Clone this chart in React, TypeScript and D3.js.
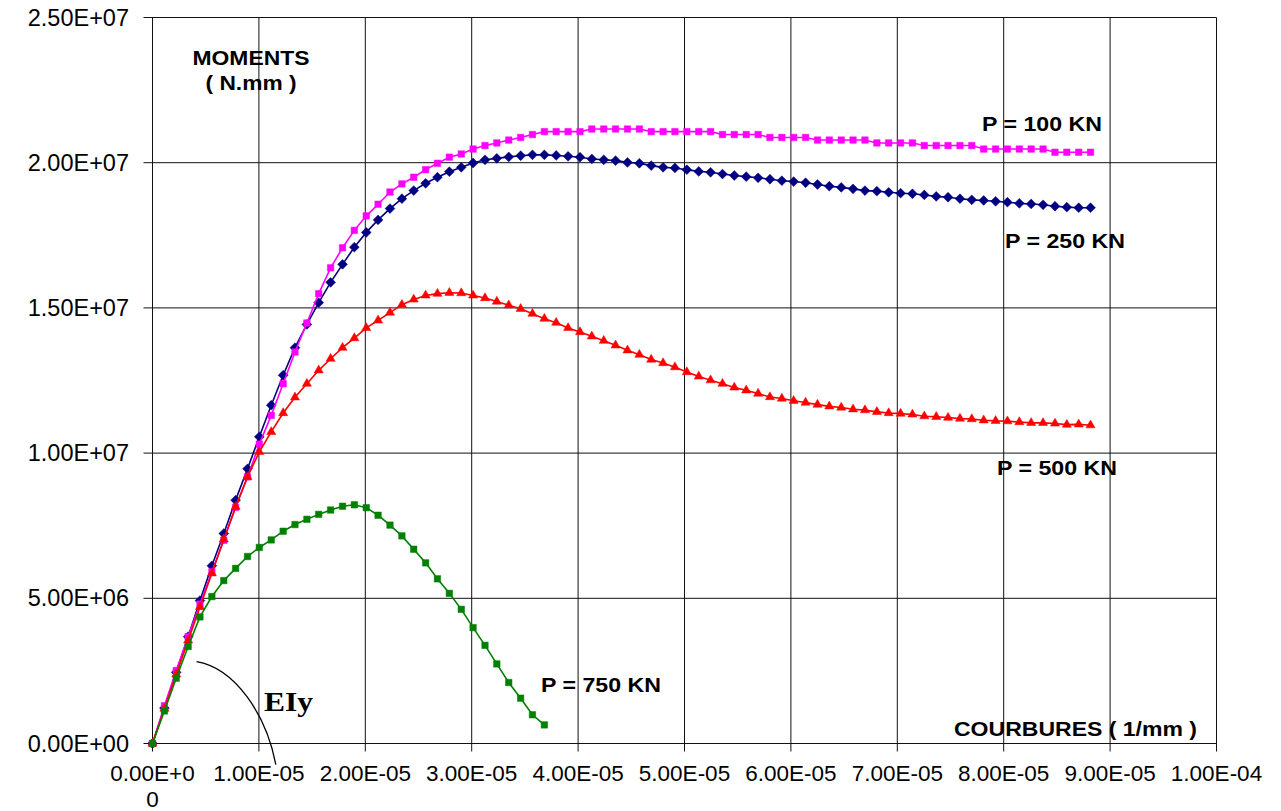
import * as d3 from "d3";

// curvature, in 1e-6 1/mm (same steps for every load case)
const curvature = [
  0, 1.12, 2.23, 3.35, 4.46, 5.58, 6.7, 7.81, 8.93, 10.04,
  11.16, 12.28, 13.39, 14.51, 15.62, 16.74, 17.86, 18.97, 20.09, 21.2,
  22.32, 23.44, 24.55, 25.67, 26.78, 27.9, 29.02, 30.13, 31.25, 32.36,
  33.48, 34.6, 35.71, 36.83, 37.94, 39.06, 40.18, 41.29, 42.41, 43.52,
  44.64, 45.76, 46.87, 47.99, 49.1, 50.22, 51.34, 52.45, 53.57, 54.68,
  55.8, 56.92, 58.03, 59.15, 60.26, 61.38, 62.5, 63.61, 64.73, 65.84,
  66.96, 68.08, 69.19, 70.31, 71.42, 72.54, 73.66, 74.77, 75.89, 77.0,
  78.12, 79.24, 80.35, 81.47, 82.58, 83.7, 84.82, 85.93, 87.05, 88.16,
];

// moments, in 1e6 N.mm
const momentP100 = [
  0, 1.3, 2.51, 3.68, 4.8, 5.91, 7.0, 8.13, 9.18, 10.31,
  11.3, 12.39, 13.48, 14.48, 15.49, 16.38, 17.07, 17.67, 18.17, 18.57,
  18.99, 19.27, 19.5, 19.76, 19.98, 20.19, 20.3, 20.47, 20.59, 20.68,
  20.78, 20.87, 20.97, 21.07, 21.07, 21.07, 21.07, 21.16, 21.16, 21.16,
  21.16, 21.16, 21.07, 21.07, 21.07, 21.07, 21.07, 21.07, 20.97, 20.97,
  20.97, 20.97, 20.87, 20.87, 20.87, 20.87, 20.78, 20.78, 20.78, 20.78,
  20.78, 20.68, 20.68, 20.68, 20.68, 20.59, 20.59, 20.59, 20.59, 20.59,
  20.47, 20.47, 20.47, 20.47, 20.47, 20.47, 20.36, 20.36, 20.36, 20.36,
];

const momentP250 = [
  0, 1.22, 2.45, 3.68, 4.92, 6.12, 7.23, 8.38, 9.46, 10.56,
  11.65, 12.68, 13.63, 14.43, 15.18, 15.88, 16.5, 17.09, 17.6, 18.03,
  18.42, 18.76, 19.04, 19.29, 19.5, 19.69, 19.84, 19.99, 20.1, 20.15,
  20.2, 20.24, 20.27, 20.27, 20.25, 20.22, 20.19, 20.13, 20.1, 20.07,
  20.01, 19.98, 19.9, 19.84, 19.82, 19.76, 19.7, 19.67, 19.61, 19.56,
  19.52, 19.48, 19.43, 19.38, 19.35, 19.31, 19.25, 19.19, 19.15, 19.1,
  19.04, 19.02, 18.98, 18.95, 18.93, 18.89, 18.84, 18.81, 18.76, 18.72,
  18.7, 18.67, 18.64, 18.6, 18.58, 18.55, 18.5, 18.47, 18.45, 18.45,
];

const momentP500 = [
  0, 1.2, 2.38, 3.55, 4.7, 5.86, 7.03, 8.15, 9.18, 10.04,
  10.73, 11.38, 11.92, 12.39, 12.85, 13.25, 13.63, 13.96, 14.31, 14.57,
  14.84, 15.11, 15.29, 15.43, 15.49, 15.52, 15.51, 15.43, 15.34, 15.22,
  15.09, 14.97, 14.8, 14.63, 14.49, 14.31, 14.17, 14.02, 13.87, 13.71,
  13.54, 13.39, 13.22, 13.1, 12.96, 12.79, 12.64, 12.51, 12.39, 12.26,
  12.16, 12.05, 11.93, 11.88, 11.8, 11.74, 11.67, 11.61, 11.57, 11.51,
  11.48, 11.42, 11.38, 11.36, 11.33, 11.27, 11.25, 11.22, 11.19, 11.17,
  11.13, 11.11, 11.1, 11.07, 11.04, 11.04, 11.02, 10.98, 10.99, 10.96,
];

const momentP750 = [
  0, 1.12, 2.25, 3.34, 4.36, 5.06, 5.61, 6.03, 6.44, 6.75,
  7.01, 7.31, 7.54, 7.72, 7.89, 8.04, 8.17, 8.22, 8.12, 7.86,
  7.52, 7.15, 6.69, 6.22, 5.67, 5.17, 4.62, 3.99, 3.38, 2.74,
  2.1, 1.56, 0.99, 0.64,
];

const yTickValues = [0, 5e6, 1e7, 1.5e7, 2e7, 2.5e7];
const yTickLabels = ["0.00E+00", "5.00E+06", "1.00E+07", "1.50E+07", "2.00E+07", "2.50E+07"];
const xTickValues = [0, 1e-5, 2e-5, 3e-5, 4e-5, 5e-5, 6e-5, 7e-5, 8e-5, 9e-5, 1e-4];
const xTickLabels = [
  "0.00E+0", "1.00E-05", "2.00E-05", "3.00E-05", "4.00E-05", "5.00E-05",
  "6.00E-05", "7.00E-05", "8.00E-05", "9.00E-05", "1.00E-04",
];

// EIy callout, in (1e-6 1/mm, 1e6 N.mm)
const calloutPoints = [
  [4.14, 2.82],
  [7.74, 2.6],
  [10.7, 1.0],
  [11.59, -0.73],
];

const series = [
  { name: "P = 250 KN", values: momentP250, color: "#000080", marker: "diamond" },
  { name: "P = 100 KN", values: momentP100, color: "#FF00FF", marker: "square" },
  { name: "P = 500 KN", values: momentP500, color: "#FF0000", marker: "triangle" },
  { name: "P = 750 KN", values: momentP750, color: "#008000", marker: "square" },
];

const W = 1281;
const H = 811;
const sans = "'Liberation Sans', Arial, sans-serif";

export default function App() {
  const x = d3.scaleLinear().domain([0, 1e-4]).range([152.5, 1216.5]);
  const y = d3.scaleLinear().domain([0, 2.5e7]).range([743.5, 17.5]);

  const line = d3
    .line<[number, number]>()
    .x((d) => x(d[0] * 1e-6))
    .y((d) => y(d[1] * 1e6));

  const markerPath = {
    square: d3.symbol(d3.symbolSquare, 42)(),
    diamond: d3.symbol(d3.symbolSquare, 48)(),
    triangle: d3.symbol(d3.symbolTriangle, 36)(),
  };

  const cp = calloutPoints.map(([cx, cy]) => [x(cx * 1e-6), y(cy * 1e6)]);
  const calloutD = `M${cp[0][0]},${cp[0][1]} C${cp[1][0]},${cp[1][1]} ${cp[2][0]},${cp[2][1]} ${cp[3][0]},${cp[3][1]}`;

  return (
    <svg
      width={W}
      height={H}
      style={{ position: "absolute", left: 0, top: 0, background: "#fff" }}
    >
      <rect width={W} height={H} fill="#fff" />

      {/* grid */}
      {yTickValues.map((v) => (
        <line key={"gy" + v} x1={x(0) - 9} x2={x(1e-4)} y1={y(v)} y2={y(v)} stroke="#111" strokeWidth={1} />
      ))}
      {xTickValues.map((v) => (
        <line key={"gx" + v} x1={x(v)} x2={x(v)} y1={y(2.5e7)} y2={y(0) + 8} stroke="#111" strokeWidth={1} />
      ))}

      {/* y tick labels */}
      {yTickValues.map((v, i) => (
        <text key={"yl" + v} x={129} y={y(v) + 8} textAnchor="end" fontFamily={sans} fontSize={23.5} fill="#000">
          {yTickLabels[i]}
        </text>
      ))}

      {/* x tick labels */}
      {xTickValues.map((v, i) => (
        <text key={"xl" + v} x={x(v)} y={781} textAnchor="middle" fontFamily={sans} fontSize={22.5} fill="#000">
          {xTickLabels[i]}
        </text>
      ))}
      <text x={x(0)} y={807} textAnchor="middle" fontFamily={sans} fontSize={22.5} fill="#000">0</text>

      {/* series */}
      {series.map((s) => {
        const pts = s.values.map((v, i) => [curvature[i], v] as [number, number]);
        return (
          <g key={s.name}>
            <path d={line(pts) || ""} fill="none" stroke={s.color} strokeWidth={1.6} />
            {pts.map((p, i) => (
              <path
                key={i}
                d={markerPath[s.marker]}
                transform={`translate(${x(p[0] * 1e-6)},${y(p[1] * 1e6)})${s.marker === "diamond" ? " rotate(45)" : ""}`}
                fill={s.color}
                stroke={s.color}
                strokeWidth={0.5}
              />
            ))}
          </g>
        );
      })}

      {/* axis titles */}
      <text x={251} y={65} textAnchor="middle" fontFamily={sans} fontWeight="bold" fontSize={20.5} textLength={117} lengthAdjust="spacingAndGlyphs">MOMENTS</text>
      <text x={251} y={90} textAnchor="middle" fontFamily={sans} fontWeight="bold" fontSize={20.5} textLength={91} lengthAdjust="spacingAndGlyphs">( N.mm )</text>
      <text x={954} y={736} fontFamily={sans} fontWeight="bold" fontSize={20} textLength={243} lengthAdjust="spacingAndGlyphs">COURBURES ( 1/mm )</text>

      {/* load labels */}
      <text x={982} y={131} fontFamily={sans} fontWeight="bold" fontSize={19.5} textLength={120} lengthAdjust="spacingAndGlyphs">P = 100 KN</text>
      <text x={1005} y={248} fontFamily={sans} fontWeight="bold" fontSize={19.5} textLength={120} lengthAdjust="spacingAndGlyphs">P = 250 KN</text>
      <text x={997} y={475} fontFamily={sans} fontWeight="bold" fontSize={19.5} textLength={120} lengthAdjust="spacingAndGlyphs">P = 500 KN</text>
      <text x={541} y={692} fontFamily={sans} fontWeight="bold" fontSize={19.5} textLength={120} lengthAdjust="spacingAndGlyphs">P = 750 KN</text>

      {/* EIy callout */}
      <path d={calloutD} fill="none" stroke="#000" strokeWidth={1.3} />
      <text x={264} y={711} fontFamily="'Liberation Serif', 'Times New Roman', serif" fontWeight="bold" fontSize={28} textLength={49} lengthAdjust="spacingAndGlyphs">EIy</text>
    </svg>
  );
}
